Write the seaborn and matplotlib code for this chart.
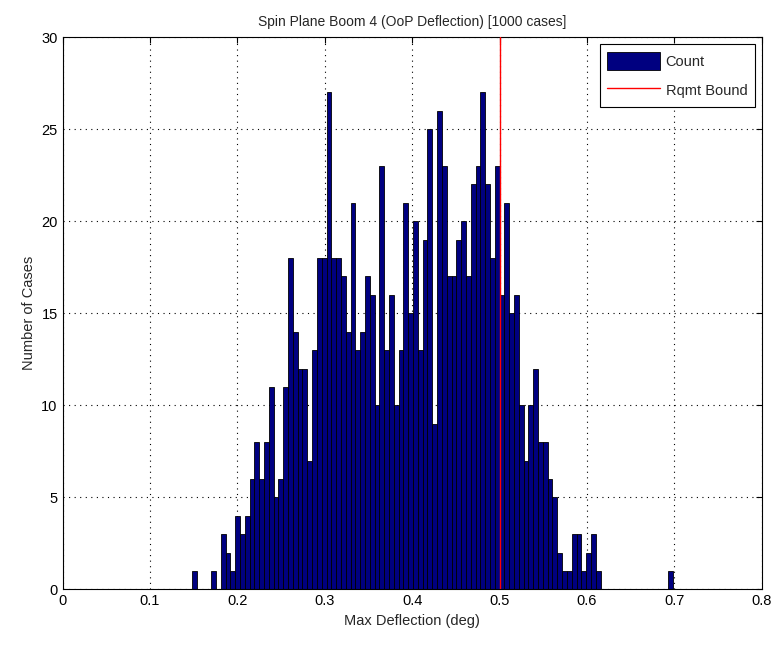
import matplotlib
matplotlib.use("Agg")
import matplotlib.pyplot as plt
import seaborn as sns
import numpy as np
import pandas as pd
from matplotlib.patches import Patch
from matplotlib.lines import Line2D

# histogram: 100 bins from 0.148 to 0.698
bin_start = 0.148
bin_width = 0.0055
counts = [1, 0, 0, 0, 1, 0, 3, 2, 1, 4,
          3, 4, 6, 8, 6, 8, 11, 5, 6, 11,
          18, 14, 12, 12, 7, 13, 18, 18, 27, 18,
          18, 17, 14, 21, 13, 14, 17, 16, 10, 23,
          13, 16, 10, 13, 21, 15, 20, 13, 19, 25,
          9, 26, 23, 17, 17, 19, 20, 17, 22, 23,
          27, 22, 18, 23, 16, 21, 15, 16, 10, 7,
          10, 12, 8, 8, 6, 5, 2, 1, 1, 3,
          3, 1, 2, 3, 1, 0, 0, 0, 0, 0,
          0, 0, 0, 0, 0, 0, 0, 0, 0, 1]
rqmt_bound = 0.5
x_ticks = [0, 0.1, 0.2, 0.3, 0.4, 0.5, 0.6, 0.7, 0.8]
x_tick_labels = ["0", "0.1", "0.2", "0.3", "0.4", "0.5", "0.6", "0.7", "0.8"]
y_ticks = [0, 5, 10, 15, 20, 25, 30]

n_bins = len(counts)
bin_end = bin_start + bin_width * n_bins
centers = bin_start + bin_width * (np.arange(n_bins) + 0.5)
df = pd.DataFrame({"deflection": np.repeat(centers, counts)})

sns.set_style("white")
plt.rcParams["font.family"] = ["Liberation Sans", "DejaVu Sans"]

fig = plt.figure(figsize=(7.74, 6.46), dpi=100)
ax = fig.add_axes([0.0808, 0.0875, 0.9035, 0.855])

sns.histplot(data=df, x="deflection", bins=n_bins, binrange=(bin_start, bin_end), ax=ax,
             color="#000080", alpha=1.0, edgecolor="black", linewidth=0.6)
ax.axvline(rqmt_bound, color="red", linewidth=1.0, zorder=5)

ax.set_xlim(0, 0.8)
ax.set_ylim(0, 30)
ax.set_xticks(x_ticks)
ax.set_xticklabels(x_tick_labels)
ax.set_yticks(y_ticks)
ax.tick_params(direction="in", top=True, right=True, length=4, labelsize=10.5, colors="black")
ax.grid(True, linestyle=(0, (1, 4)), color="black", linewidth=0.8)
ax.set_axisbelow(True)
for s in ax.spines.values():
    s.set_color("black")
    s.set_linewidth(0.8)

ax.set_title("Spin Plane Boom 4 (OoP Deflection) [1000 cases]", fontsize=10, pad=8)
ax.set_xlabel("Max Deflection (deg)", fontsize=10.5)
ax.set_ylabel("Number of Cases", fontsize=10.5)

handles = [Patch(facecolor="#000080", edgecolor="black", linewidth=0.6),
           Line2D([0], [0], color="red", linewidth=1.0)]
leg = ax.legend(handles, ["Count", "Rqmt Bound"], loc="upper right", fontsize=10.5,
                frameon=True, fancybox=False, framealpha=1.0, edgecolor="black",
                handlelength=3.6, handleheight=1.6, handletextpad=0.4,
                borderpad=0.5, labelspacing=0.7, borderaxespad=0.5)
leg.get_frame().set_linewidth(0.8)

fig.savefig("out.png", dpi=100)
plt.close(fig)
